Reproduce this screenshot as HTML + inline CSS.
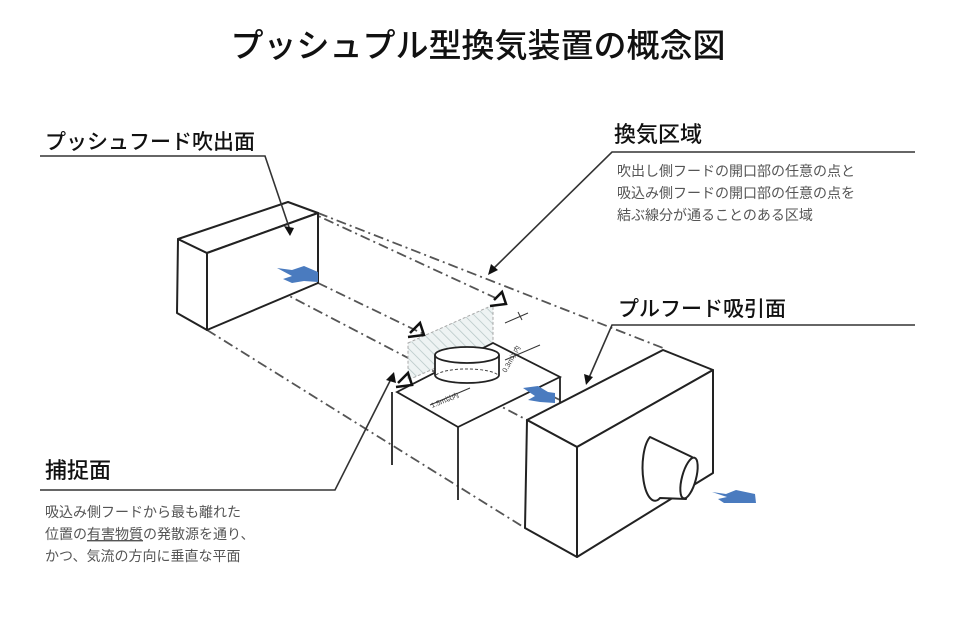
<!DOCTYPE html>
<html><head><meta charset="utf-8"><style>
html,body{margin:0;padding:0;background:#fff;}
svg{display:block;}
text{font-family:"Liberation Sans","Noto Sans CJK JP",sans-serif;}
</style></head><body>
<svg width="957" height="636" viewBox="0 0 957 636" xmlns="http://www.w3.org/2000/svg">
<defs>
<pattern id="h" width="7" height="7" patternUnits="userSpaceOnUse" patternTransform="rotate(-45)">
<rect width="7" height="7" fill="#eef3f3"/><line x1="0" y1="0" x2="0" y2="7" stroke="#b5c5c5" stroke-width="1.5"/></pattern>
</defs>
<text x="478" y="57" font-size="33" text-anchor="middle" fill="#111" font-weight="500">プッシュプル型換気装置の概念図</text>

<g fill="none" stroke="#555" stroke-width="1.8" stroke-dasharray="10,4,2,4">
<line x1="318" y1="213" x2="663" y2="348"/>
<line x1="207" y1="253" x2="527" y2="420"/>
<line x1="207" y1="330" x2="525" y2="528"/>
<line x1="318" y1="283" x2="560" y2="400"/>
<line x1="288" y1="202" x2="500" y2="300"/>
</g>

<g fill="#fff" stroke="#222" stroke-width="2" stroke-linejoin="round">
<polygon points="178,239 207,253 207,330 177,313"/>
<polygon points="178,239 288,202 318,213 207,253"/>
<polygon points="207,253 318,213 318,283 207,330"/>
</g>
<path d="M277,268 L292,270 L304,266 L318,272 L318,282 L304,281 L292,283 L283,279 L292,276 Z" fill="#4a7bbf"/>

<polygon points="408,343 493,305 493,343 408,380" fill="url(#h)" stroke="#aaa" stroke-width="1" stroke-dasharray="3,2"/>

<g fill="#fff" stroke="#222" stroke-width="1.8">
<polygon points="397,392 493,343 560,377 458,427" />
<line x1="392" y1="392" x2="392" y2="465"/>
<line x1="458" y1="427" x2="458" y2="500"/>
<line x1="560" y1="377" x2="560" y2="405"/>
</g>
<g stroke="#222" stroke-width="1.8" fill="#fff">
<path d="M435,355 L435,375 A32,8 0 0 0 499,375 L499,355"/>
<ellipse cx="467" cy="355" rx="32" ry="8"/>
</g>
<path d="M436,375 A32,8 0 0 1 498,375" fill="none" stroke="#444" stroke-dasharray="3,2"/>
<g stroke="#333" stroke-width="1" fill="none">
<line x1="430" y1="405" x2="470" y2="388"/><line x1="505" y1="360" x2="540" y2="345"/>
<line x1="522" y1="320" x2="518" y2="312"/><line x1="505" y1="323" x2="528" y2="313"/>
</g>
<text x="432" y="408" font-size="7" fill="#333" transform="rotate(-22 432 408)">1.5m以内</text>
<text x="506" y="373" font-size="7" fill="#333" transform="rotate(-60 506 373)">0.3m以内</text>
<path d="M523,388 L538,386 L548,392 L555,393 L555,403 L540,402 L528,400 L535,396 Z" fill="#4a7bbf"/>

<g fill="#fff" stroke="#222" stroke-width="2" stroke-linejoin="round">
<polygon points="527,420 663,350 713,370 577,447"/>
<polygon points="527,420 577,447 577,557 525,528"/>
<polygon points="577,447 713,370 713,473 577,557"/>
<path d="M650,437 L692,457 L686,499 L660,498 A12,32 0 0 1 650,437 Z"/>
<ellipse cx="689" cy="478" rx="7" ry="21" transform="rotate(15 689 478)"/>
</g>
<path d="M712,492 L726,494 L736,490 L755,494 L756,503 L738,503 L724,503 L718,499 L727,497 Z" fill="#4a7bbf"/>

<g fill="none" stroke="#111" stroke-width="2.5">
<path d="M410,333 L420,323 L424,335 L408,337"/>
<path d="M494,300 L502,292 L506,304 L490,306"/>
<path d="M398,383 L408,373 L412,385 L396,387"/>
</g>

<g stroke="#333" stroke-width="1.6" fill="none">
<polyline points="40,156 265,156 290,230"/>
<polyline points="915,152 612,152 492,270"/>
<polyline points="915,325 612,325 588,380"/>
<polyline points="40,490 335,490 392,377"/>
</g>
<g fill="#111">
<path d="M290,236 L284,226 L294,228 Z"/><path d="M488,275 L491,264 L498,270 Z"/>
<path d="M586,385 L584,374 L593,377 Z"/><path d="M394,372 L386,380 L396,383 Z"/>
</g>
<text x="45" y="149" font-size="21" fill="#111" font-weight="500">プッシュフード吹出面</text>
<text x="614" y="142" font-size="22" fill="#111" font-weight="500">換気区域</text>
<text x="618" y="316" font-size="21" fill="#111" font-weight="500">プルフード吸引面</text>
<text x="45" y="478" font-size="22" fill="#111" font-weight="500">捕捉面</text>
<g font-size="14" fill="#555">
<text x="617" y="176">吹出し側フードの開口部の任意の点と</text>
<text x="617" y="198">吸込み側フードの開口部の任意の点を</text>
<text x="617" y="220">結ぶ線分が通ることのある区域</text>
<text x="45" y="517">吸込み側フードから最も離れた</text>
<text x="45" y="539">位置の<tspan text-decoration="underline">有害物質</tspan>の発散源を通り、</text>
<text x="45" y="561">かつ、気流の方向に垂直な平面</text>
</g>
</svg>
</body></html>
